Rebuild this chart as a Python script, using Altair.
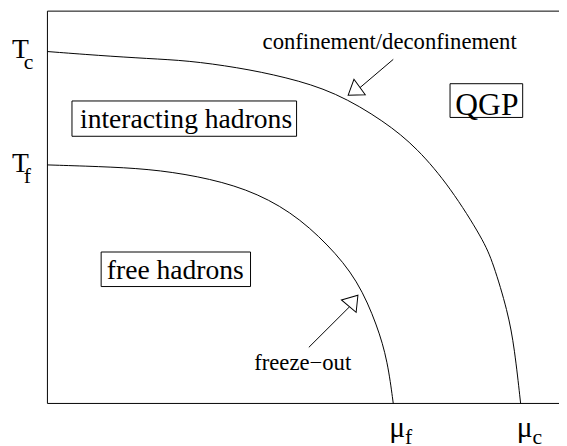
import altair as alt
import pandas as pd

# ---- data (chemical potential mu, temperature T, both in units of the frame) ----
outer_mu = [0.000, 0.100, 0.197, 0.274, 0.370, 0.466, 0.563, 0.659, 0.723, 0.788, 0.852, 0.871, 0.900, 0.913, 0.925]
outer_T = [0.897, 0.887, 0.879, 0.874, 0.857, 0.832, 0.794, 0.719, 0.651, 0.550, 0.417, 0.359, 0.234, 0.141, 0.000]
inner_mu = [0.000, 0.100, 0.197, 0.293, 0.389, 0.476, 0.549, 0.607, 0.645, 0.665, 0.676]
inner_T = [0.608, 0.604, 0.598, 0.580, 0.548, 0.490, 0.405, 0.314, 0.198, 0.108, 0.000]

region_text = ["interacting hadrons", "free hadrons", "QGP"]
region_mu = [0.271, 0.250, 0.859]
region_T = [0.701, 0.318, 0.736]
box_mu0 = [0.048, 0.105, 0.787]
box_mu1 = [0.487, 0.397, 0.929]
box_T0 = [0.681, 0.298, 0.729]
box_T1 = [0.771, 0.386, 0.815]

note_text = ["confinement/deconfinement", "freeze\u2212out"]
note_mu = [0.669, 0.499]
note_T = [0.903, 0.084]

arrow_mu0 = [0.676, 0.511]
arrow_T0 = [0.877, 0.143]
arrow_mu1 = [0.611, 0.591]
arrow_T1 = [0.805, 0.247]
head_mu = [0.599, 0.598]
head_T = [0.796, 0.262]
head_angle = [234, 40]

T_labels = ["c", "f"]
T_values = [outer_T[0], inner_T[0]]
mu_labels = ["c", "f"]
mu_values = [outer_mu[-1], inner_mu[-1]]

FONT = "'Liberation Serif', 'Times New Roman', 'DejaVu Serif', serif"

curves = pd.DataFrame({
    "mu": outer_mu + inner_mu,
    "T": outer_T + inner_T,
    "curve": ["outer"] * len(outer_mu) + ["inner"] * len(inner_mu),
    "i": list(range(len(outer_mu))) + list(range(len(inner_mu))),
})
regions = pd.DataFrame({"text": region_text, "mu": region_mu, "T": region_T,
                        "m0": box_mu0, "m1": box_mu1, "t0": box_T0, "t1": box_T1})
notes = pd.DataFrame({"text": note_text, "mu": note_mu, "T": note_T})
arrows = pd.DataFrame({"m0": arrow_mu0, "t0": arrow_T0, "m1": arrow_mu1, "t1": arrow_T1,
                       "hm": head_mu, "ht": head_T, "angle": head_angle})
frame = pd.DataFrame({"m0": [0, 0, 0], "m1": [0, 1, 1], "t0": [0, 1, 0], "t1": [1, 1, 0]})
tlab = pd.DataFrame({"sub": T_labels, "T": T_values, "mu": [0, 0], "main": ["T", "T"]})
mlab = pd.DataFrame({"sub": mu_labels, "mu": mu_values, "T": [0, 0], "main": ["\u03bc", "\u03bc"]})

xs = alt.Scale(domain=[0, 1], nice=False, zero=False)
ys = alt.Scale(domain=[0, 1], nice=False, zero=False)


def X(f):
    return alt.X(f, type="quantitative", scale=xs, axis=None)


def Y(f):
    return alt.Y(f, type="quantitative", scale=ys, axis=None)


frame_l = alt.Chart(frame).mark_rule(color="black", strokeWidth=1).encode(
    x=X("m0"), x2="m1", y=Y("t0"), y2="t1")

curve_l = alt.Chart(curves).mark_line(color="black", strokeWidth=1, interpolate="basis").encode(
    x=X("mu"), y=Y("T"), detail="curve:N", order="i:Q")

shaft_l = alt.Chart(arrows).mark_rule(color="black", strokeWidth=1).encode(
    x=X("m0"), x2="m1", y=Y("t0"), y2="t1")

head_l = alt.Chart(arrows).mark_point(
    shape="M0,-0.74L1,0.74L-1,0.74Z", size=380, filled=True, fill="white",
    stroke="black", strokeWidth=1, opacity=1).encode(
    x=X("hm"), y=Y("ht"), angle=alt.Angle("angle:Q", scale=None))

box_l = alt.Chart(regions).mark_rect(fill="white", stroke="black", strokeWidth=1).encode(
    x=X("m0"), x2="m1", y=Y("t0"), y2="t1")

region_l = alt.Chart(regions).transform_filter(alt.datum.text != "QGP").mark_text(
    font=FONT, fontSize=28, color="black", align="center", baseline="alphabetic").encode(
    x=X("mu"), y=Y("T"), text="text:N")

qgp_l = alt.Chart(regions).transform_filter(alt.datum.text == "QGP").mark_text(
    font=FONT, fontSize=32, color="black", align="center", baseline="alphabetic").encode(
    x=X("mu"), y=Y("T"), text="text:N")

note_l = alt.Chart(notes).mark_text(font=FONT, fontSize=23, color="black",
                                    align="center", baseline="alphabetic").encode(
    x=X("mu"), y=Y("T"), text="text:N")

t_main = alt.Chart(tlab).mark_text(font=FONT, fontSize=28, color="black", align="left",
                                   baseline="alphabetic", dx=-36, dy=7).encode(
    x=X("mu"), y=Y("T"), text="main:N")
t_sub = alt.Chart(tlab).mark_text(font=FONT, fontSize=22, color="black", align="left",
                                  baseline="alphabetic", dx=-24, dy=18).encode(
    x=X("mu"), y=Y("T"), text="sub:N")
m_main = alt.Chart(mlab).mark_text(font=FONT, fontSize=30, color="black", align="left",
                                   baseline="alphabetic", dx=-4, dy=34).encode(
    x=X("mu"), y=Y("T"), text="main:N")
m_sub = alt.Chart(mlab).mark_text(font=FONT, fontSize=22, color="black", align="left",
                                  baseline="alphabetic", dx=12, dy=41).encode(
    x=X("mu"), y=Y("T"), text="sub:N")

chart = alt.layer(frame_l, curve_l, shaft_l, head_l, box_l, region_l, qgp_l, note_l,
                  t_main, t_sub, m_main, m_sub).properties(
    width=519, height=398,
    autosize=alt.AutoSizeParams(type="none"),
    padding={"left": 40, "top": 0, "right": 0, "bottom": 40},
).configure_view(stroke=None)

chart.save("out.html", embed_options={"renderer": "svg", "actions": False})
